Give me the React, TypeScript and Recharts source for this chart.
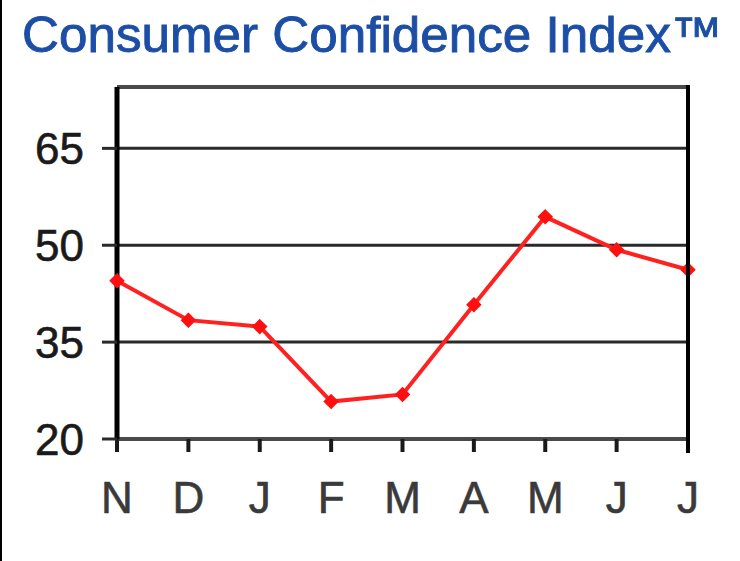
import React from 'react';
import {
  LineChart, Line, XAxis, YAxis, CartesianGrid, ReferenceLine,
} from 'recharts';

const MONTHS = ['N', 'D', 'J', 'F', 'M', 'A', 'M', 'J', 'J'];
const INDEX_VALUES = [44.5, 38.4, 37.4, 25.8, 26.9, 40.8, 54.4, 49.3, 46.2];
const Y_TICKS = [20, 35, 50, 65];
const Y_DOMAIN: [number, number] = [20, 74.5];

const data = MONTHS.map((m, i) => ({ key: `${m}${i}`, month: m, value: INDEX_VALUES[i] }));

const FONT = '"Liberation Sans", Arial, Helvetica, sans-serif';

function Marker(props: { cx?: number; cy?: number }) {
  const { cx, cy } = props;
  if (cx == null || cy == null) return null;
  const s = 6;
  return (
    <polygon
      points={`${cx},${cy - s} ${cx + s},${cy} ${cx},${cy + s} ${cx - s},${cy}`}
      fill="#ff1010"
      stroke="#ff1010"
      strokeWidth={2.5}
    />
  );
}

export default function App() {
  return (
    <div style={{
      position: 'absolute', left: 0, top: 0, width: 740, height: 561,
      background: '#fff', overflow: 'hidden',
    }}>
      {/* page edge line on the left */}
      <div style={{ position: 'absolute', left: 0, top: 0, width: 2, height: 561, background: '#000' }} />
      <svg width={740} height={70} style={{ position: 'absolute', left: 0, top: 0 }}>
        <text
          x={22}
          y={52}
          fontFamily={FONT}
          fontSize={50}
          fill="#1c4ea6"
          stroke="#1c4ea6"
          strokeWidth={0.9}
          textLength={700}
          lengthAdjust="spacingAndGlyphs"
        >
          Consumer Confidence Index™
        </text>
      </svg>
      <div style={{ position: 'absolute', left: 0, top: 0 }}>
        <LineChart
          width={740}
          height={561}
          data={data}
          margin={{ top: 87, right: 52, left: 0, bottom: 0 }}
        >
          <CartesianGrid
            vertical={false}
            horizontal
            stroke="#2a2a2a"
            strokeWidth={3}
          />
          <XAxis
            dataKey="key"
            type="category"
            height={122}
            axisLine={{ stroke: '#4a4a4a', strokeWidth: 4 }}
            tickLine={{ stroke: '#1a1a1a', strokeWidth: 4 }}
            tickSize={13}
            tickMargin={30}
            interval={0}
            tickFormatter={(_v: string, i: number) => MONTHS[i]}
            tick={{ fill: '#3a3a3a', stroke: '#3a3a3a', strokeWidth: 0.6, fontSize: 44, fontFamily: FONT }}
          />
          <YAxis
            type="number"
            domain={Y_DOMAIN}
            ticks={Y_TICKS}
            allowDataOverflow
            width={117}
            axisLine={{ stroke: '#000', strokeWidth: 5 }}
            tickLine={{ stroke: '#2a2a2a', strokeWidth: 3 }}
            tickSize={15}
            tickMargin={18}
            tick={{ fill: '#1a1a1a', stroke: '#1a1a1a', strokeWidth: 0.6, fontSize: 44, fontFamily: FONT }}
          />
          <ReferenceLine y={Y_DOMAIN[1]} stroke="#4a4a4a" strokeWidth={4} />
          <Line
            type="linear"
            dataKey="value"
            stroke="#ff2020"
            strokeWidth={4}
            dot={<Marker />}
            activeDot={false}
            isAnimationActive={false}
          />
        </LineChart>
      </div>
      {/* right frame edge of the plot */}
      <div style={{ position: 'absolute', left: 686, top: 85, width: 4, height: 368, background: '#000' }} />
    </div>
  );
}
